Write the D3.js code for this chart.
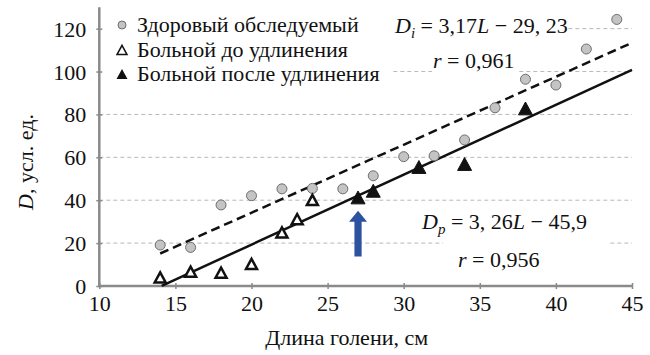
<!DOCTYPE html>
<html><head><meta charset="utf-8">
<script src="https://cdn.jsdelivr.net/npm/d3@7"></script>
</head><body style="margin:0">
<svg id="c" width="650" height="355"></svg>
<script>
// ---- data ----
const healthyL = [14,16,18,20,22,24,26,28,30,32,34,36,38,40,42,44];
const healthyD = [19.1,18,37.8,42.1,45.3,45.5,45.3,51.4,60.3,60.7,68.1,83.1,96.4,93.7,110.5,124.3];
const beforeL = [14,16,18,20,22,23,24];
const beforeD = [4,6.7,6.2,10.3,25,31.2,40.1];
const afterL = [27,28,31,34,38];
const afterD = [41.3,44.4,55.5,56.9,82.8];
const xTicks = [10,15,20,25,30,35,40,45];
const yTicks = [0,20,40,60,80,100,120];
const fitHealthy = {slope:3.17, intercept:-29.23, from:14, to:45};
const fitPatient = {slope:3.26, intercept:-45.9, from:14.1, to:45};
const arrowL = 27;
const arrowD = [13.7, 35.1];
const legendLabels = ["Здоровый обследуемый","Больной до удлинения","Больной после удлинения"];
const xTitle = "Длина голени, см";

// ---- layout ----
const FONT = "Liberation Serif";
const svg = d3.select("#c");
const x = d3.scaleLinear().domain([10,45]).range([99.3,632]);
const y = d3.scaleLinear().domain([0,130]).range([286,7.2]);
const FS = 22;
function serif(sel){ return sel.attr("font-family",FONT).style("font-family",FONT,"important"); }

// gridlines
svg.append("g").selectAll("line").data(yTicks.filter(d=>d>0)).join("line")
  .attr("x1",x(10)).attr("x2",x(45)).attr("y1",d=>y(d)).attr("y2",d=>y(d))
  .attr("stroke","#b8b8b8").attr("stroke-width",1).attr("stroke-dasharray","4,3");

// white boxes behind text
const boxes = [[100,9,392,92],[393,10,566,45],[432,50,518,90],[443,232,610,278]];
svg.append("g").selectAll("rect").data(boxes).join("rect")
  .attr("x",d=>d[0]).attr("y",d=>d[1]).attr("width",d=>d[2]-d[0]).attr("height",d=>d[3]-d[1])
  .attr("fill","#fff");

// axes
const axisColor = "#8a8a8a";
const gx = svg.append("g").attr("transform",`translate(0,${y(0)})`)
  .call(d3.axisBottom(x).tickValues(xTicks).tickSize(3).tickSizeOuter(0).tickFormat(d3.format("d")));
const gy = svg.append("g").attr("transform",`translate(${x(10)},0)`)
  .call(d3.axisLeft(y).tickValues(yTicks).tickSize(3).tickSizeOuter(0).tickFormat(d3.format("d")));
[gx,gy].forEach(g=>{
  serif(g).attr("font-size",FS);
  g.select(".domain").attr("stroke",axisColor).attr("stroke-width",2.5);
  g.selectAll(".tick line").attr("stroke",axisColor).attr("stroke-width",1.5);
  serif(g.selectAll(".tick text")).attr("font-size",FS).attr("fill","#111");
});
gx.selectAll(".tick line").attr("y1",-3).attr("y2",3);
gx.selectAll(".tick text").attr("y",9).attr("dy","0.71em");
gy.selectAll(".tick line").attr("x1",-3).attr("x2",3);
gy.selectAll(".tick text").attr("x",-13).attr("dy","0.34em");
gy.select(".domain").attr("d",`M0,${y(130)}V${y(0)+1}`);
gx.select(".domain").attr("d",`M${x(10)-1},0H${x(45)}`);

// fit lines
function fitLine(f){ return [[f.from, f.slope*f.from+f.intercept],[f.to, f.slope*f.to+f.intercept]]; }
const line = d3.line().x(d=>x(d[0])).y(d=>y(Math.max(0,d[1])));
svg.append("path").attr("d",line(fitLine(fitHealthy))).attr("fill","none")
  .attr("stroke","#111").attr("stroke-width",2.5).attr("stroke-dasharray","9,5");
svg.append("path").attr("d",line(fitLine(fitPatient))).attr("fill","none")
  .attr("stroke","#111").attr("stroke-width",2.5);

// markers
const healthy = healthyL.map((l,i)=>[l,healthyD[i]]);
const before = beforeL.map((l,i)=>[l,beforeD[i]]);
const after = afterL.map((l,i)=>[l,afterD[i]]);
function triPath(w){ const h=w*0.92; return `M0,${-h/2}L${w/2},${h/2}L${-w/2},${h/2}Z`; }
svg.append("g").selectAll("circle").data(healthy).join("circle")
  .attr("cx",d=>x(d[0])).attr("cy",d=>y(d[1])).attr("r",5)
  .attr("fill","#c4c4c4").attr("stroke","#6e6e6e").attr("stroke-width",1);
svg.append("g").selectAll("path").data(before).join("path")
  .attr("transform",d=>`translate(${x(d[0])},${y(d[1])})`).attr("d",triPath(11))
  .attr("fill","#fff").attr("stroke","#111").attr("stroke-width",2.5).attr("stroke-linejoin","miter");
svg.append("g").selectAll("path").data(after).join("path")
  .attr("transform",d=>`translate(${x(d[0])},${y(d[1])})`).attr("d",triPath(14))
  .attr("fill","#111").attr("stroke","#111").attr("stroke-width",1);

// arrow
{
  const cx = x(arrowL), tip = y(arrowD[1]), bot = y(arrowD[0]);
  const hl = 11, hw = 9, sw = 3.6;
  const p = `M${cx},${tip}L${cx+hw},${tip+hl}L${cx+sw},${tip+hl}L${cx+sw},${bot}L${cx-sw},${bot}L${cx-sw},${tip+hl}L${cx-hw},${tip+hl}Z`;
  svg.append("path").attr("d",p).attr("fill","#2c52a0");
}

// legend
const lg = svg.append("g");
const ly = [25,50,74];
lg.append("circle").attr("cx",122).attr("cy",ly[0]).attr("r",4)
  .attr("fill","#c4c4c4").attr("stroke","#6e6e6e");
lg.append("path").attr("transform",`translate(122,${ly[1]})`).attr("d",triPath(10))
  .attr("fill","#fff").attr("stroke","#111").attr("stroke-width",1.5);
lg.append("path").attr("transform",`translate(122,${ly[2]})`).attr("d",triPath(11))
  .attr("fill","#111");
serif(lg.selectAll("text").data(legendLabels).join("text"))
  .attr("x",137).attr("y",(d,i)=>ly[i]).attr("dy","0.33em").attr("font-size",FS)
  .attr("fill","#111").text(d=>d);

// equations
function eq(xp, yp, parts){
  const t = serif(svg.append("text")).attr("x",xp).attr("y",yp).attr("font-size",FS).attr("fill","#111");
  parts.forEach(p=>{
    const s = serif(t.append("tspan")).text(p.t);
    if(p.i) s.attr("font-style","italic");
    if(p.sub){ s.attr("font-size",FS*0.68).attr("dy",5); }
    if(p.up){ s.attr("dy",-5); }
  });
}
eq(395,33,[{t:"D",i:1},{t:"i",i:1,sub:1},{t:" = 3,17",up:1},{t:"L",i:1},{t:" − 29, 23"}]);
eq(433,68,[{t:"r",i:1},{t:" = 0,961"}]);
eq(422,229,[{t:"D",i:1},{t:"p",i:1,sub:1},{t:" = 3, 26",up:1},{t:"L",i:1},{t:" − 45,9"}]);
eq(458,267,[{t:"r",i:1},{t:" = 0,956"}]);

// axis titles
serif(svg.append("text")).attr("x",x(10)+(x(45)-x(10))/2-19).attr("y",345).attr("text-anchor","middle")
  .attr("font-size",FS).attr("fill","#111").text(xTitle);
const yt = serif(svg.append("text")).attr("transform","translate(33,162) rotate(-90)")
  .attr("text-anchor","middle").attr("font-size",FS).attr("fill","#111");
serif(yt.append("tspan")).attr("font-style","italic").text("D");
serif(yt.append("tspan")).text(", усл. ед.");
</script>
</body></html>
